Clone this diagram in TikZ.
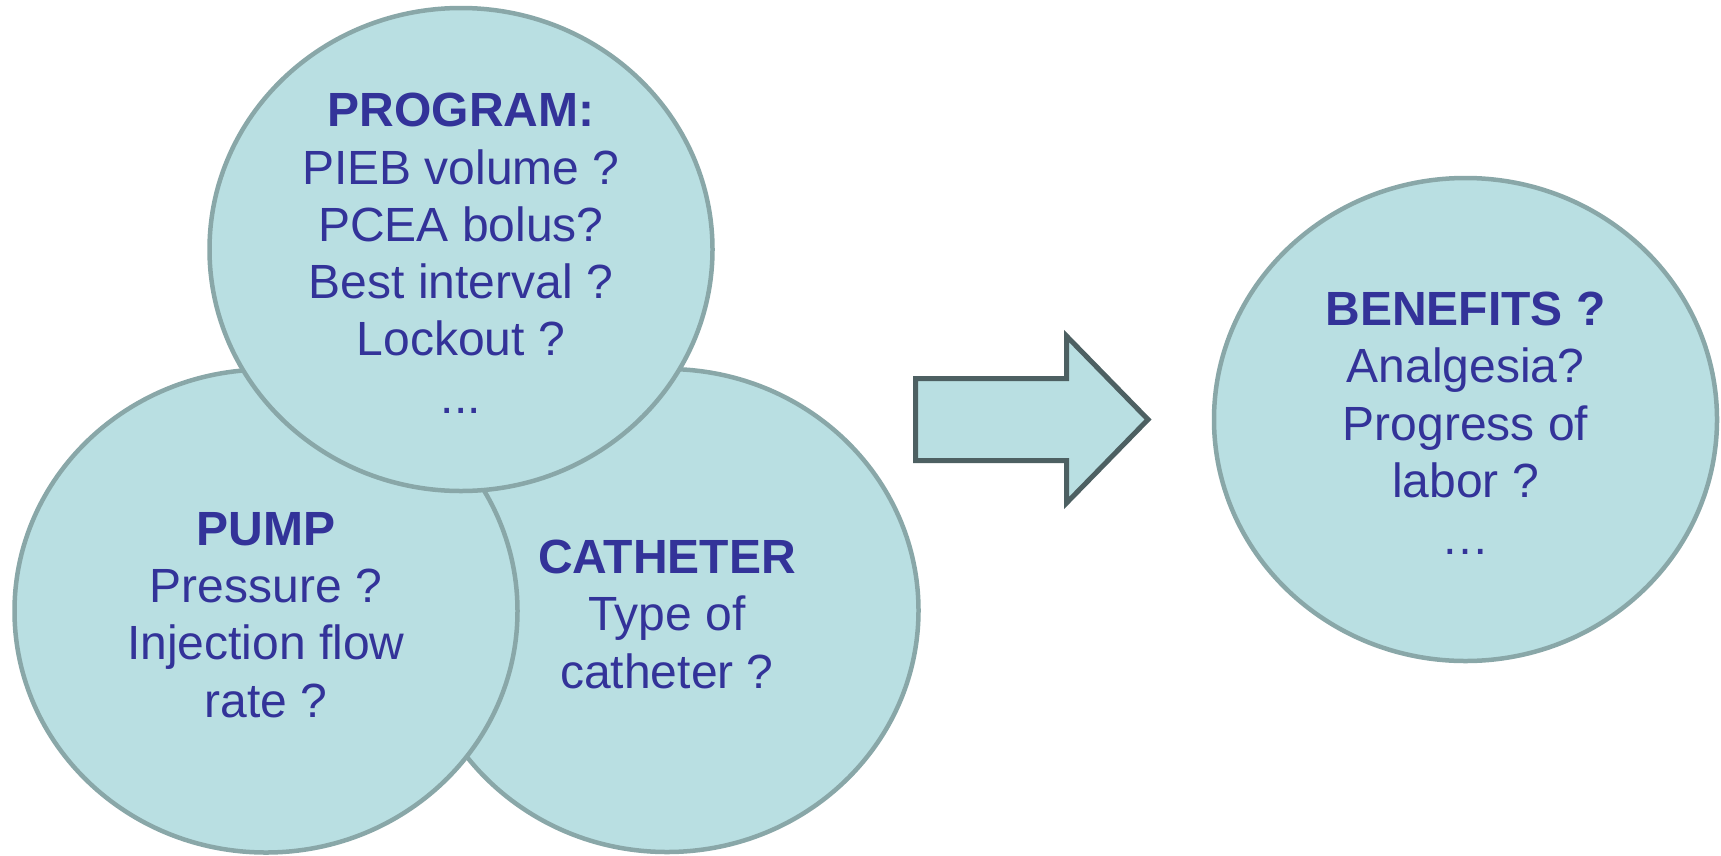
\documentclass[tikz,border=0pt]{standalone}
\usepackage{fontspec}
\setmainfont{Liberation Sans}
\usetikzlibrary{shapes.geometric}
\definecolor{blobfill}{RGB}{185,223,226}
\definecolor{blobline}{RGB}{137,167,168}
\definecolor{txtblue}{RGB}{51,51,153}
\definecolor{arrline}{RGB}{77,96,98}
\newcommand{\toprule}{\rule{0pt}{41pt}}
\begin{document}
\begin{tikzpicture}[x=1pt,y=-1pt,
  blob/.style={ellipse, draw=blobline, line width=4.5pt, fill=blobfill,
    text=txtblue, align=center, font=\fontsize{48}{57.3}\selectfont,
    inner sep=0pt, outer sep=0pt, minimum width=503pt, minimum height=483pt},
  bigarrow/.style={draw=arrline, line width=5pt, fill=blobfill, line join=miter}]
\useasboundingbox (0,0) rectangle (1721,855);
\node[blob] (cath) at (667,610.5) {\toprule\textbf{CATHETER}\\Type of\\catheter ?};
\node[blob] (pump) at (266,611) {\toprule\textbf{PUMP}\\Pressure ?\\Injection flow\\rate ?};
\node[blob] (prog) at (461,249.5) {\toprule\textbf{PROGRAM:}\\PIEB volume ?\\PCEA bolus?\\Best interval ?\\Lockout ?\\...};
\node[blob] (bene) at (1465.5,419.5) {\toprule\textbf{BENEFITS ?}\\Analgesia?\\Progress of\\labor ?\\…};
\draw[bigarrow] (915.5,378.5) -- (1066.5,378.5) -- (1066.5,336) -- (1148,419.5)
  -- (1066.5,503) -- (1066.5,460.5) -- (915.5,460.5) -- cycle;
\end{tikzpicture}
\end{document}
